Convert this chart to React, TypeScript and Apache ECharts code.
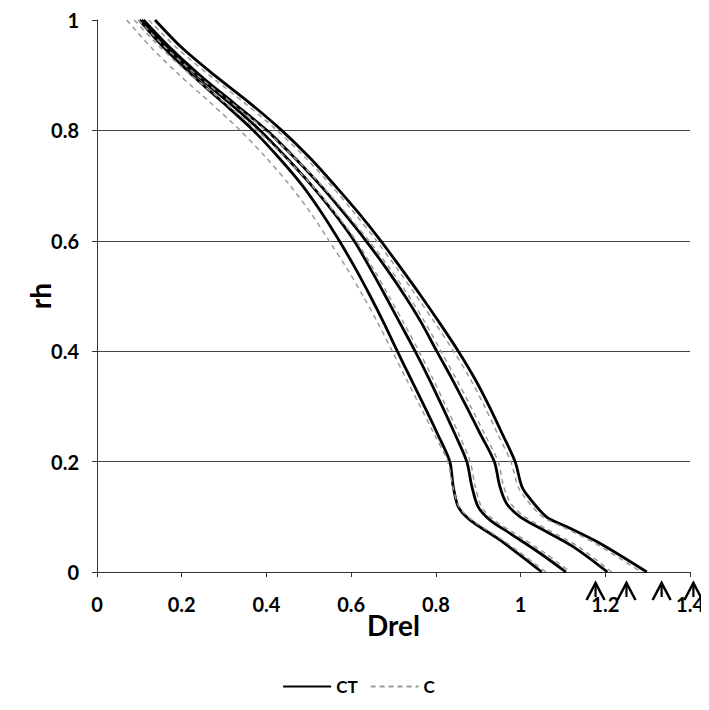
import React, { useEffect, useRef } from "react";
import * as echarts from "echarts";

const xTicks = [0, 0.2, 0.4, 0.6, 0.8, 1, 1.2, 1.4];
const yTicks = [0, 0.2, 0.4, 0.6, 0.8, 1];
const legendNames = ["CT", "C"];

// CT curves: [Drel, rh]
const ct1 = [[0.100,1.0],[0.158,0.95],[0.225,0.90],[0.298,0.85],[0.369,0.80],[0.430,0.75],[0.485,0.70],[0.531,0.65],[0.572,0.60],[0.610,0.55],[0.645,0.50],[0.678,0.45],[0.709,0.40],[0.741,0.35],[0.773,0.30],[0.804,0.25],[0.833,0.20],[0.841,0.155],[0.853,0.118],[0.881,0.094],[0.951,0.058],[1.050,0]];
const ct2 = [[0.105,1.0],[0.165,0.95],[0.235,0.90],[0.312,0.85],[0.385,0.80],[0.448,0.75],[0.507,0.70],[0.560,0.65],[0.607,0.60],[0.645,0.55],[0.681,0.50],[0.716,0.45],[0.751,0.40],[0.784,0.35],[0.815,0.30],[0.845,0.25],[0.873,0.20],[0.885,0.155],[0.900,0.118],[0.928,0.094],[0.975,0.070],[1.046,0.034],[1.107,0]];
const ct3 = [[0.110,1.0],[0.172,0.95],[0.243,0.90],[0.322,0.85],[0.401,0.80],[0.467,0.75],[0.528,0.70],[0.583,0.65],[0.635,0.60],[0.683,0.55],[0.727,0.50],[0.767,0.45],[0.802,0.40],[0.838,0.35],[0.872,0.30],[0.905,0.25],[0.938,0.20],[0.951,0.155],[0.967,0.124],[0.999,0.10],[1.054,0.076],[1.124,0.046],[1.205,0]];
const ct4 = [[0.137,1.0],[0.200,0.95],[0.277,0.90],[0.360,0.85],[0.436,0.80],[0.503,0.75],[0.562,0.70],[0.618,0.65],[0.670,0.60],[0.718,0.55],[0.765,0.50],[0.810,0.45],[0.853,0.40],[0.892,0.35],[0.926,0.30],[0.957,0.25],[0.987,0.20],[1.003,0.155],[1.020,0.135],[1.061,0.10],[1.109,0.082],[1.187,0.052],[1.298,0]];

// C curves
const c1 = [[0.070,1.0],[0.128,0.95],[0.195,0.90],[0.268,0.85],[0.338,0.80],[0.400,0.75],[0.456,0.70],[0.505,0.65],[0.548,0.60],[0.590,0.55],[0.628,0.50],[0.664,0.45],[0.697,0.40],[0.730,0.35],[0.763,0.30],[0.796,0.25],[0.828,0.20],[0.840,0.155],[0.855,0.118],[0.886,0.094],[0.958,0.058],[1.060,0]];
const c2 = [[0.088,1.0],[0.150,0.95],[0.222,0.90],[0.302,0.85],[0.378,0.80],[0.446,0.75],[0.508,0.70],[0.563,0.65],[0.612,0.60],[0.652,0.55],[0.689,0.50],[0.725,0.45],[0.760,0.40],[0.793,0.35],[0.824,0.30],[0.854,0.25],[0.881,0.20],[0.893,0.155],[0.908,0.118],[0.937,0.094],[0.986,0.070],[1.058,0.034],[1.118,0]];
const c3 = [[0.098,1.0],[0.162,0.95],[0.236,0.90],[0.318,0.85],[0.398,0.80],[0.467,0.75],[0.531,0.70],[0.588,0.65],[0.642,0.60],[0.691,0.55],[0.736,0.50],[0.776,0.45],[0.812,0.40],[0.848,0.35],[0.882,0.30],[0.915,0.25],[0.947,0.20],[0.960,0.155],[0.977,0.124],[1.010,0.10],[1.066,0.076],[1.136,0.046],[1.215,0]];
const c4 = [[0.122,1.0],[0.188,0.95],[0.265,0.90],[0.348,0.85],[0.425,0.80],[0.493,0.75],[0.553,0.70],[0.608,0.65],[0.660,0.60],[0.708,0.55],[0.754,0.50],[0.799,0.45],[0.842,0.40],[0.881,0.35],[0.915,0.30],[0.946,0.25],[0.977,0.20],[0.994,0.155],[1.010,0.135],[1.052,0.10],[1.099,0.082],[1.176,0.052],[1.285,0]];

// hand-drawn arrows under the x axis (Drel values)
const arrowX = [1.177, 1.25, 1.333, 1.408];

const FONT = "Lato, 'Open Sans', sans-serif";

export default function App() {
  const ref = useRef<HTMLDivElement>(null);
  useEffect(() => {
    if (!ref.current) return;
    const chart = echarts.init(ref.current, null, { renderer: "svg" });
    const ctSeries = [ct1, ct2, ct3, ct4].map((d) => ({
      name: legendNames[0],
      type: "line",
      data: d,
      symbol: "none",
      smooth: 0.3,
      lineStyle: { color: "#000", width: 2.8, type: "solid" },
      itemStyle: { color: "#000" },
      z: 2,
    }));
    const cSeries = [c1, c2, c3, c4].map((d) => ({
      name: legendNames[1],
      type: "line",
      data: d,
      symbol: "none",
      smooth: 0.3,
      lineStyle: { color: "#999", width: 1.5, type: [5, 4] },
      itemStyle: { color: "#999" },
      z: 3,
    }));
    chart.setOption({
      animation: false,
      backgroundColor: "#fff",
      textStyle: { fontFamily: FONT },
      grid: { left: 89, right: 19, top: 12, bottom: 138, outerBoundsMode: "none" },
      legend: {
        data: legendNames,
        top: 665,
        left: "center",
        itemWidth: 48,
        itemHeight: 14,
        itemGap: 12,
        itemStyle: { opacity: 0, borderWidth: 0 },
        textStyle: { fontFamily: FONT, fontWeight: "bold", fontSize: 17, color: "#000" },
      },
      xAxis: {
        type: "value",
        min: 0,
        max: 1.4,
        interval: 0.2,
        name: "Drel",
        nameLocation: "middle",
        nameGap: 39,
        nameMoveOverlap: false,
        nameTextStyle: { fontFamily: FONT, fontWeight: "bold", fontSize: 28, color: "#000" },
        axisLine: { show: true, lineStyle: { color: "#333", width: 1 } },
        axisTick: { show: true, length: 5, lineStyle: { color: "#333" } },
        splitLine: { show: false },
        axisLabel: {
          margin: 22,
          fontFamily: FONT,
          fontWeight: "bold",
          fontSize: 20,
          color: "#000",
          formatter: (v: number) => {
            const t = xTicks.find((x) => Math.abs(x - v) < 1e-6);
            return t === undefined ? "" : String(+t.toFixed(1));
          },
        },
      },
      yAxis: {
        type: "value",
        min: 0,
        max: 1,
        interval: 0.2,
        name: "rh",
        nameLocation: "middle",
        nameGap: 43,
        nameMoveOverlap: false,
        nameTextStyle: { fontFamily: FONT, fontWeight: "bold", fontSize: 28, color: "#000" },
        axisLine: { show: true, lineStyle: { color: "#333", width: 1 } },
        axisTick: { show: true, length: 5, lineStyle: { color: "#333" } },
        splitLine: { show: true, showMaxLine: false, showMinLine: false, lineStyle: { color: "#444", width: 1 } },
        axisLabel: {
          margin: 18,
          fontFamily: FONT,
          fontWeight: "bold",
          fontSize: 20,
          color: "#000",
          formatter: (v: number) => {
            const t = yTicks.find((x) => Math.abs(x - v) < 1e-6);
            return t === undefined ? "" : String(+t.toFixed(1));
          },
        },
      },
      series: [...ctSeries, ...cSeries],
    });

    // arrows below the axis
    const y0 = chart.convertToPixel({ gridIndex: 0 }, [0, 0])[1];
    const elements: any[] = [];
    arrowX.forEach((xv) => {
      const px = chart.convertToPixel({ gridIndex: 0 }, [xv, 0])[0];
      elements.push({
        type: "polyline",
        shape: { points: [[px - 9, y0 + 28], [px, y0 + 11], [px + 9, y0 + 28]] },
        style: { stroke: "#000", lineWidth: 2.5, fill: null },
        z: 10,
      });
      elements.push({
        type: "line",
        shape: { x1: px, y1: y0 + 11, x2: px, y2: y0 + 25 },
        style: { stroke: "#000", lineWidth: 2.2 },
        z: 10,
      });
    });
    chart.setOption({ graphic: elements });
    return () => chart.dispose();
  }, []);
  return <div ref={ref} style={{ width: 701, height: 702 }} />;
}
